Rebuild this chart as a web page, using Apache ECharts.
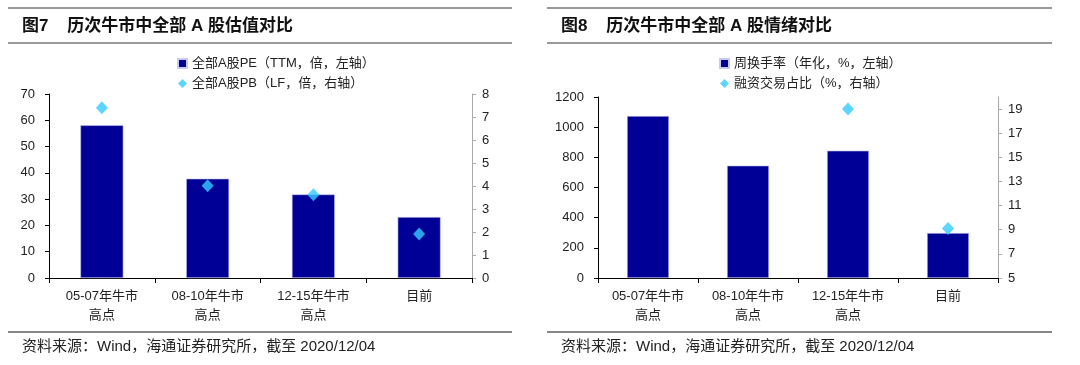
<!DOCTYPE html>
<html><head><meta charset="utf-8">
<script src="https://cdn.jsdelivr.net/npm/echarts@6/dist/echarts.min.js"></script>
<style>html,body{margin:0;padding:0;background:#fff}#c{width:1080px;height:365px}</style>
</head><body><div id="c"></div>
<script>
const categories = ['05-07年牛市\n高点', '08-10年牛市\n高点', '12-15年牛市\n高点', '目前'];
const peValues = [58.1, 37.8, 31.8, 23.2];
const pbValues = [7.40, 4.01, 3.62, 1.91];
const turnoverValues = [1074, 745, 844, 298];
const marginShareValues = ['-', '-', 19.0, 9.1];
const leftTicks1 = [0, 10, 20, 30, 40, 50, 60, 70];
const rightTicks1 = [0, 1, 2, 3, 4, 5, 6, 7, 8];
const leftTicks2 = [0, 200, 400, 600, 800, 1000, 1200];
const rightTicks2 = [5, 7, 9, 11, 13, 15, 17, 19];
const rightMax2 = 20;
const names = ['全部A股PE（TTM，倍，左轴）', '全部A股PB（LF，倍，右轴）', '周换手率（年化，%，左轴）', '融资交易占比（%，右轴）'];
const titles = ['图7    历次牛市中全部 A 股估值对比', '图8    历次牛市中全部 A 股情绪对比'];
const sourceText = '资料来源：Wind，海通证券研究所，截至 2020/12/04';

const FONT = '"Liberation Sans", "Noto Sans CJK SC", sans-serif';
const BAR = '#000096';
const DIA = '#33CCFF';
const chart = echarts.init(document.getElementById('c'), null, {renderer: 'canvas'});

function catAxis(gi) {
  return {
    type: 'category', gridIndex: gi, data: categories, boundaryGap: true,
    axisLine: {lineStyle: {color: '#000', width: 1}},
    axisTick: {show: true, length: 5, lineStyle: {color: '#000'}},
    axisLabel: {color: '#222', fontSize: 13, fontFamily: FONT, lineHeight: 19, margin: 9}
  };
}
function leftAxis(gi, ticks) {
  return {
    type: 'value', gridIndex: gi, position: 'left',
    min: ticks[0], max: ticks[ticks.length - 1], interval: ticks[1] - ticks[0],
    splitLine: {show: false},
    axisLine: {show: true, lineStyle: {color: '#000'}},
    axisTick: {show: true, length: 4, lineStyle: {color: '#000'}},
    axisLabel: {color: '#222', fontSize: 13, fontFamily: FONT, margin: 14, formatter: v => String(v)}
  };
}

const lines = [];
[[8, 512], [547, 1052]].forEach(([x1, x2], i) => {
  lines.push({type: 'line', shape: {x1: x1, y1: 8, x2: x2, y2: 8}, style: {stroke: '#333', lineWidth: 1}});
  lines.push({type: 'line', shape: {x1: x1, y1: 43, x2: x2, y2: 43}, style: {stroke: '#999', lineWidth: 2}});
  lines.push({type: 'line', shape: {x1: x1, y1: 332, x2: x2, y2: 332}, style: {stroke: '#888', lineWidth: 2}});
  lines.push({type: 'text', x: x1 + 14, y: 26, style: {text: titles[i], font: 'bold 17px ' + FONT, fill: '#111', textVerticalAlign: 'middle'}});
  lines.push({type: 'text', x: x1 + 14, y: 347, style: {text: sourceText, font: '15px ' + FONT, fill: '#222', textVerticalAlign: 'middle'}});
});

chart.setOption({
  animation: false,
  textStyle: {fontFamily: FONT},
  graphic: lines,
  legend: [
    {data: [{name: names[0], icon: 'rect'}, {name: names[1], icon: 'diamond'}], orient: 'vertical', left: 172, top: 52, itemGap: 7, itemWidth: 9, itemHeight: 9,
     textStyle: {fontSize: 13, color: '#222', fontFamily: FONT}},
    {data: [{name: names[2], icon: 'rect'}, {name: names[3], icon: 'diamond'}], orient: 'vertical', left: 714, top: 52, itemGap: 7, itemWidth: 9, itemHeight: 9,
     textStyle: {fontSize: 13, color: '#222', fontFamily: FONT}}
  ],
  grid: [
    {left: 49, right: 608, top: 94, bottom: 87},
    {left: 598, right: 82, top: 97, bottom: 87}
  ],
  xAxis: [catAxis(0), catAxis(1)],
  yAxis: [
    leftAxis(0, leftTicks1),
    {type: 'value', gridIndex: 0, position: 'right', min: rightTicks1[0], max: rightTicks1[rightTicks1.length - 1], interval: 1,
     splitLine: {show: false}, axisLine: {show: true, lineStyle: {color: '#aaa'}},
     axisTick: {show: true, length: 4, lineStyle: {color: '#aaa'}},
     axisLabel: {color: '#222', fontSize: 13, fontFamily: FONT, margin: 10}},
    leftAxis(1, leftTicks2),
    {type: 'value', gridIndex: 1, position: 'right', min: rightTicks2[0], max: rightMax2, interval: 1,
     splitLine: {show: false}, axisLine: {show: true, lineStyle: {color: '#aaa'}},
     axisTick: {show: true, length: 4, lineStyle: {color: '#aaa'}, customValues: rightTicks2},
     axisLabel: {color: '#222', fontSize: 13, fontFamily: FONT, margin: 10, customValues: rightTicks2}}
  ],
  series: [
    {name: names[0], type: 'bar', xAxisIndex: 0, yAxisIndex: 0, data: peValues, barWidth: 43,
     itemStyle: {color: BAR, borderColor: '#c8c8f0', borderWidth: 0.6}},
    {name: names[1], type: 'scatter', xAxisIndex: 0, yAxisIndex: 1, data: pbValues, symbol: 'diamond', symbolSize: [12, 13],
     itemStyle: {color: DIA}},
    {name: names[2], type: 'bar', xAxisIndex: 1, yAxisIndex: 2, data: turnoverValues, barWidth: 42,
     itemStyle: {color: BAR, borderColor: '#c8c8f0', borderWidth: 0.6}},
    {name: names[3], type: 'scatter', xAxisIndex: 1, yAxisIndex: 3, data: marginShareValues, symbol: 'diamond', symbolSize: [12, 13],
     itemStyle: {color: DIA}}
  ]
});
</script></body></html>
